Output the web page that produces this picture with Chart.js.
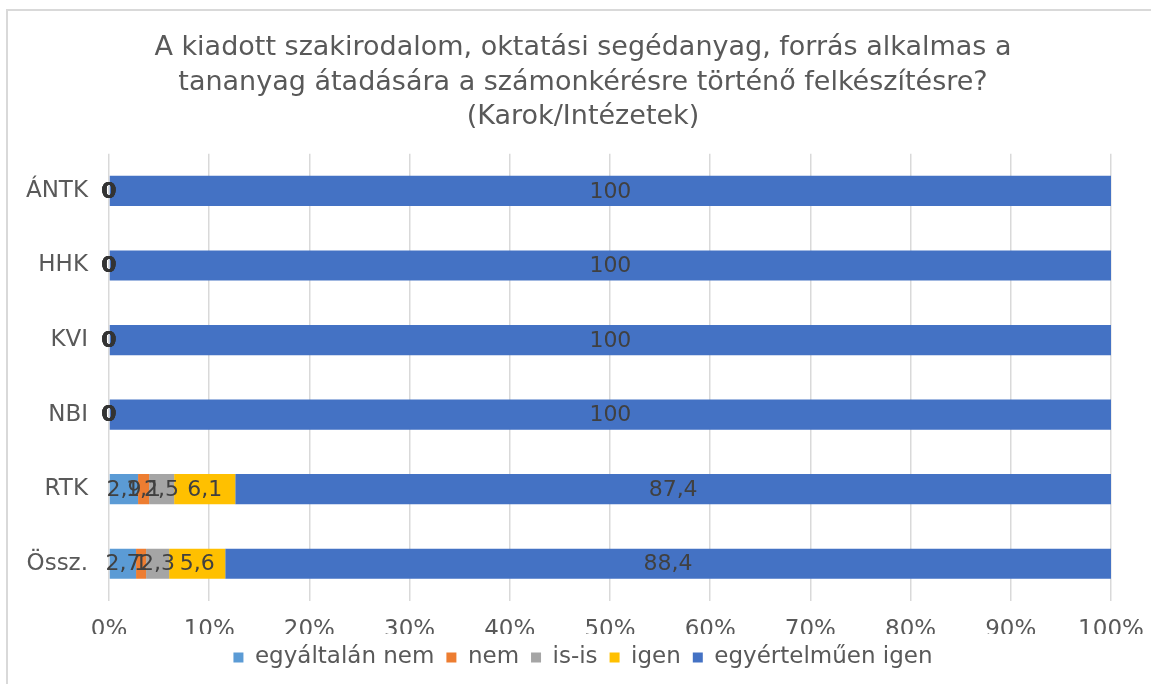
<!DOCTYPE html>
<html>
<head>
<meta charset="utf-8">
<script src="https://cdn.jsdelivr.net/npm/chart.js@4"></script>
<style>
    body { margin: 0; background: #fff; overflow: hidden; }
    #frame { position: absolute; left: 6px; top: 9px; width: 1200px; height: 700px; border: 2px solid #d9d9d9; }
    #wrap { position: absolute; left: 0; top: 0; width: 1151px; height: 684px; }
</style>
</head>
<body>
<div id="frame"></div>
<div id="wrap"><canvas id="chartBar" width="1151" height="684"></canvas></div>
<script>
const categories = ["ÁNTK", "HHK", "KVI", "NBI", "RTK", "Össz."]
const egyaltalanNem = [0, 0, 0, 0, 2.9, 2.7]
const nem = [0, 0, 0, 0, 1.1, 1]
const isIs = [0, 0, 0, 0, 2.5, 2.3]
const igen = [0, 0, 0, 0, 6.1, 5.6]
const egyertelmuenIgen = [100, 100, 100, 100, 87.4, 88.4]
const xTicks = [0, 10, 20, 30, 40, 50, 60, 70, 80, 90, 100]

const fontName = "'DejaVu Sans', Verdana, sans-serif"
const textColor = "#595959"

// value labels in the middle of each segment, comma as decimal mark
const barLabels = {
    id: "barLabels",
    afterDatasetsDraw(chart) {
        const ctx = chart.ctx
        ctx.save()
        ctx.textAlign = "center"
        ctx.textBaseline = "middle"
        chart.data.datasets.forEach((ds, i) => {
            const meta = chart.getDatasetMeta(i)
            meta.data.forEach((bar, j) => {
                const v = ds.data[j]
                ctx.font = (v === 0 ? "bold " : "") + "22px " + fontName
                ctx.fillStyle = v === 0 ? "#333333" : "#404040"
                ctx.fillText(String(v).replace(".", ","), (bar.x + bar.base) / 2, bar.y + 1)
            })
        })
        ctx.restore()
    }
}

const data = {
    labels: categories,
    datasets: [
        { label: "egyáltalán nem", data: egyaltalanNem, backgroundColor: "#5B9BD5" },
        { label: "nem", data: nem, backgroundColor: "#ED7D31" },
        { label: "is-is", data: isIs, backgroundColor: "#A5A5A5" },
        { label: "igen", data: igen, backgroundColor: "#FFC000" },
        { label: "egyértelműen igen", data: egyertelmuenIgen, backgroundColor: "#4472C4" },
    ],
}

const config = {
    type: "bar",
    data: data,
    plugins: [barLabels],
    options: {
        indexAxis: "y",
        responsive: false,
        animation: false,
        layout: { padding: { left: 15, right: 0, top: 0, bottom: 5 } },
        datasets: { bar: { barPercentage: 1, categoryPercentage: 0.405 } },
        scales: {
            x: {
                stacked: true,
                min: 0,
                max: 100,
                afterBuildTicks: (axis) => { axis.ticks = xTicks.map((v) => ({ value: v })) },
                ticks: {
                    callback: (v) => v + "%",
                    color: textColor,
                    font: { family: fontName, size: 23, lineHeight: 2.2 },
                    padding: 4,
                    maxRotation: 0,
                },
                grid: { color: "#d9d9d9", lineWidth: 1.5, drawTicks: false, tickLength: 0 },
                border: { display: false },
                afterFit: (axis) => {
                    axis.height = 33
                    axis.paddingLeft = 0
                    axis.paddingRight = 40
                },
            },
            y: {
                stacked: true,
                ticks: {
                    color: textColor,
                    font: { family: fontName, size: 23 },
                    padding: 21,
                },
                grid: { display: false, drawTicks: false },
                border: { display: false },
                afterFit: (axis) => { axis.width = 94 },
            },
        },
        plugins: {
            title: {
                display: true,
                text: [
                    "A kiadott szakirodalom, oktatási segédanyag, forrás alkalmas a",
                    "tananyag átadására a számonkérésre történő felkészítésre?",
                    "(Karok/Intézetek)",
                ],
                color: textColor,
                font: { family: fontName, size: 27, weight: "normal", lineHeight: 1.28 },
                padding: { top: 31, bottom: 19 },
            },
            legend: {
                position: "bottom",
                labels: {
                    color: textColor,
                    font: { family: fontName, size: 23 },
                    boxWidth: 10,
                    boxHeight: 10,
                    padding: 12,
                },
            },
            tooltip: { enabled: false },
        },
    },
}

new Chart(document.getElementById("chartBar"), config)
</script>
</body>
</html>
